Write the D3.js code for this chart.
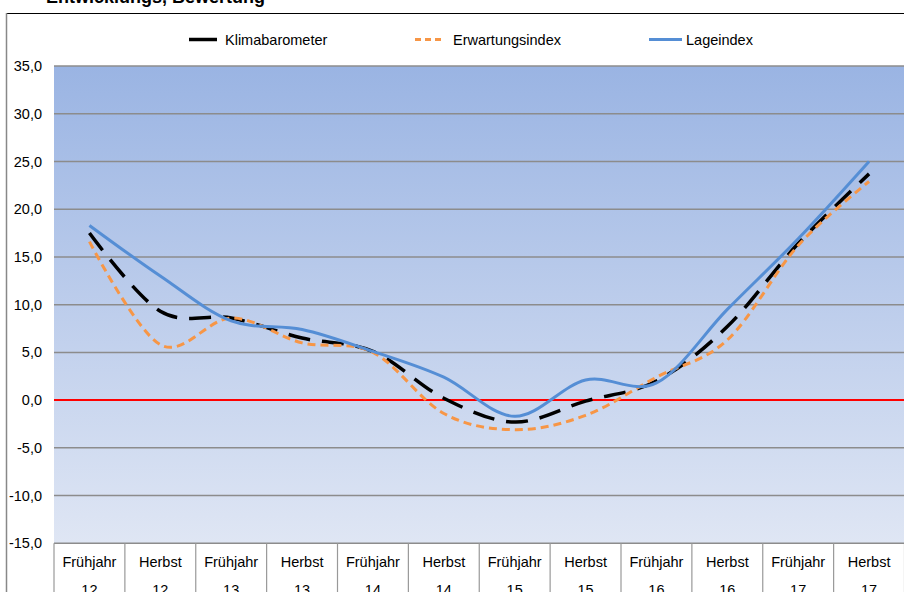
<!DOCTYPE html>
<html><head><meta charset="utf-8">
<script src="https://cdn.jsdelivr.net/npm/d3@7"></script>
<style>body{margin:0;background:#fff;}svg{display:block;font-family:"Liberation Sans",Arial,sans-serif;}</style>
</head><body><svg id="c" width="904" height="592"></svg>
<script>
const seasons = ["Frühjahr","Herbst","Frühjahr","Herbst","Frühjahr","Herbst","Frühjahr","Herbst","Frühjahr","Herbst","Frühjahr","Herbst"];
const years = ["12","12","13","13","14","14","15","15","16","16","17","17"];
const klimabarometer = [17.5, 9.3, 8.6, 6.5, 5.1, 0.2, -2.3, -0.1, 2.0, 7.7, 16.4, 23.7];
const erwartungsindex = [16.6, 5.8, 8.6, 6.0, 5.0, -1.4, -3.1, -1.6, 2.4, 6.3, 16.2, 22.9];
const lageindex = [18.3, 13.0, 8.3, 7.4, 5.1, 2.4, -1.7, 2.1, 1.8, 9.5, 16.9, 25.0];
const yTicks = [-15, -10, -5, 0, 5, 10, 15, 20, 25, 30, 35];
const seriesNames = ["Klimabarometer", "Erwartungsindex", "Lageindex"];

const svg = d3.select("#c");
const L = 54, R = 904.5, T = 66, B = 543.3;
const FS = 14.5;
const idx = d3.range(seasons.length);
const x = d3.scaleBand().domain(idx).range([L, R]).padding(0);
const y = d3.scaleLinear().domain([-15, 35]).range([B, T]);

// title (cut off at top, as in the reference)
svg.append("text").attr("x", 46).attr("y", 2.5).attr("font-size", 18).attr("font-weight", "bold")
  .attr("fill", "#000").text("Entwicklungs, Bewertung");

// frame
svg.append("line").attr("x1", 6).attr("x2", 904).attr("y1", 13.5).attr("y2", 13.5).attr("stroke", "#000").attr("stroke-width", 1);
svg.append("line").attr("x1", 6.5).attr("x2", 6.5).attr("y1", 13).attr("y2", 592).attr("stroke", "#888").attr("stroke-width", 1.5);

// background gradient
const defs = svg.append("defs");
const g = defs.append("linearGradient").attr("id", "bg").attr("x1", 0).attr("x2", 0).attr("y1", 0).attr("y2", 1);
g.append("stop").attr("offset", "0%").attr("stop-color", "#9ab4e3");
g.append("stop").attr("offset", "100%").attr("stop-color", "#dfe6f4");
svg.append("rect").attr("x", L).attr("y", T).attr("width", R - L).attr("height", B - T).attr("fill", "url(#bg)");

// gridlines
svg.append("g").selectAll("line").data(yTicks.filter(d => d !== 0)).join("line")
  .attr("x1", L).attr("x2", R).attr("y1", d => y(d)).attr("y2", d => y(d))
  .attr("stroke", "#8c8c8c").attr("stroke-width", 1.5);

// y labels
svg.append("g").selectAll("text").data(yTicks).join("text")
  .attr("x", 42).attr("y", d => y(d)).attr("dy", "0.35em").attr("text-anchor", "end")
  .attr("font-size", FS).attr("fill", "#000").text(d => d3.format(".1f")(d).replace(".", ",").replace("−", "-"));

// category table
svg.append("g").selectAll("line").data(d3.range(seasons.length + 1)).join("line")
  .attr("x1", i => L + i * x.bandwidth()).attr("x2", i => L + i * x.bandwidth())
  .attr("y1", B).attr("y2", 592).attr("stroke", "#999").attr("stroke-width", 1.2);
const cat = svg.append("g").selectAll("g").data(idx).join("g");
cat.append("text").attr("x", i => x(i) + x.bandwidth() / 2).attr("y", 567).attr("text-anchor", "middle")
  .attr("font-size", FS).attr("fill", "#000").text(i => seasons[i]);
cat.append("text").attr("x", i => x(i) + x.bandwidth() / 2).attr("y", 595).attr("text-anchor", "middle")
  .attr("font-size", FS).attr("fill", "#000").text(i => years[i]);

// zero line
svg.append("line").attr("x1", L).attr("x2", R).attr("y1", y(0)).attr("y2", y(0)).attr("stroke", "#ff0000").attr("stroke-width", 2);

// lines
const line = d3.line().x((d, i) => x(i) + x.bandwidth() / 2).y(d => y(d)).curve(d3.curveCardinal.tension(0));
const styles = [
  {data: klimabarometer, color: "#000000", w: 3.5, dash: "22,12"},
  {data: erwartungsindex, color: "#f79646", w: 3, dash: "8,5"},
  {data: lageindex, color: "#558ed5", w: 3, dash: null}
];
styles.forEach(s => {
  svg.append("path").attr("d", line(s.data)).attr("fill", "none").attr("stroke", s.color)
    .attr("stroke-width", s.w).attr("stroke-dasharray", s.dash);
});

// legend
const leg = [
  {sx: 189, ex: 217, tx: 225},
  {sx: 415, ex: 443, tx: 453},
  {sx: 649, ex: 682, tx: 686}
];
leg.forEach((l, i) => {
  svg.append("line").attr("x1", l.sx).attr("x2", l.ex).attr("y1", 39.5).attr("y2", 39.5)
    .attr("stroke", styles[i].color).attr("stroke-width", styles[i].w)
    .attr("stroke-dasharray", i === 1 ? "6,4" : null);
  svg.append("text").attr("x", l.tx).attr("y", 39.5).attr("dy", "0.35em").attr("font-size", FS)
    .attr("fill", "#000").text(seriesNames[i]);
});
</script></body></html>
